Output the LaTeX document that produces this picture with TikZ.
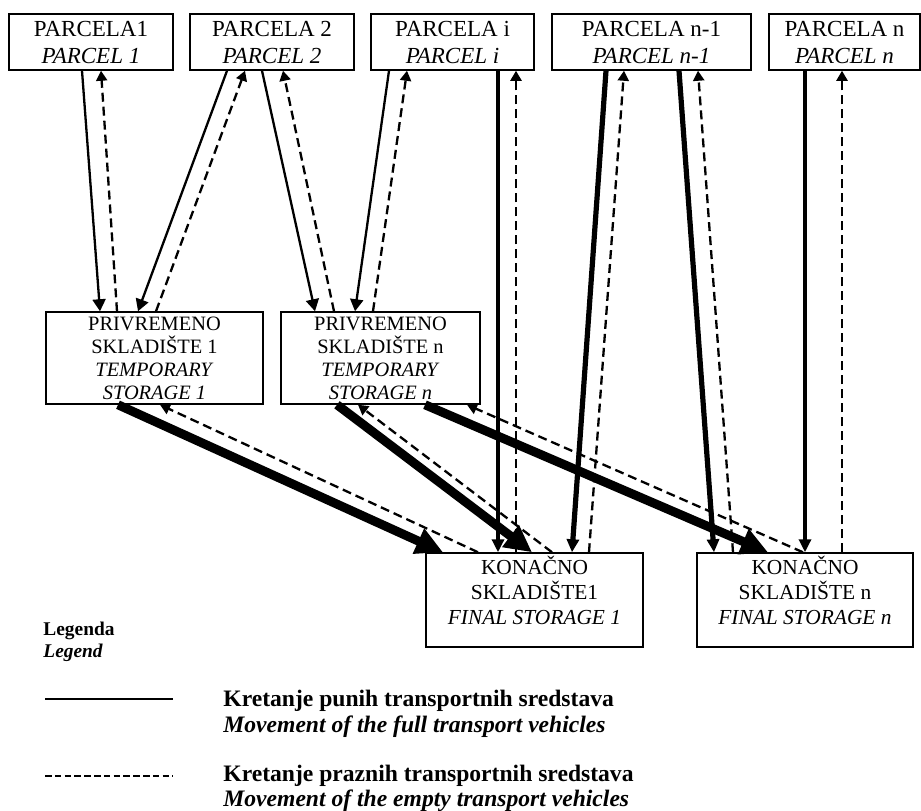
\documentclass[tikz,border=0pt]{standalone}
\usepackage{fontspec}
\setmainfont{Liberation Serif}
\usetikzlibrary{arrows.meta,calc}

\tikzset{
  parcel/.style={draw, line width=0.75pt, inner sep=0pt, minimum height=28pt, align=center, font=\fontsize{11.5}{13.5}\selectfont},
  storebox/.style={draw, line width=0.75pt, inner sep=0pt},
  boxtext/.style={anchor=north, align=center, inner sep=0pt},
  fullrun/.style={line width=1.15pt, -{Triangle[length=6pt,width=6.5pt]}},
  midrun/.style={line width=2.2pt, -{Triangle[length=6.5pt,width=6pt]}},
  heavyrun/.style={line width=4.5pt, -{Triangle[length=13.5pt,width=13pt]}},
  emptyrun/.style={line width=1.15pt, dash pattern=on 4.5pt off 2.5pt, -{Triangle[length=5pt,width=5.5pt]}},
}

\begin{document}
\begin{tikzpicture}[x=0.5pt, y=-0.5pt]
        \useasboundingbox (0,0) rectangle (921,810);

        % Parcels on top
        \foreach \nm/\x/\w/\hr/\en in {p1/91/164/PARCELA1/PARCEL 1, p2/272/164/PARCELA 2/PARCEL 2, pi/452.5/163/PARCELA i/PARCEL i, pm/651.5/199/PARCELA n-1/PARCEL n-1, pn/844.5/151/PARCELA n/PARCEL n}
            \node (\nm) at (\x,42) [parcel, minimum width=\w*0.5pt] {\hr\\\textit{\en}};

        % Temporary storages
        \node (t1) at (154.5,358) [storebox, minimum width=108.5pt, minimum height=46pt] {};
        \node (tn) at (380.5,358) [storebox, minimum width=99.5pt, minimum height=46pt] {};
        \foreach \nm/\k in {t1/1, tn/n}
            \node (\nm-txt) at ($(\nm.north)+(0,5)$) [boxtext, font=\fontsize{10.2}{11.5}\selectfont] {PRIVREMENO\\SKLADIŠTE \k\\\textit{TEMPORARY}\\\textit{STORAGE \k}};

        % Final storages
        \node (f1) at (534.5,600) [storebox, minimum width=108.5pt, minimum height=47pt] {};
        \node (fn) at (805,600) [storebox, minimum width=108pt, minimum height=47pt] {};
        \node (f1-txt) at ($(f1.north)+(0,3)$) [boxtext, font=\fontsize{10.7}{12.5}\selectfont] {KONAČNO\\SKLADIŠTE1\\\textit{FINAL STORAGE 1}};
        \node (fn-txt) at ($(fn.north)+(0,3)$) [boxtext, font=\fontsize{10.7}{12.5}\selectfont] {KONAČNO\\SKLADIŠTE n\\\textit{FINAL STORAGE n}};

        % Full vehicles from the parcels
        \draw[fullrun] ($(p1.south)+(-9,0)$) -- ($(t1.north)+(-54.5,0)$);
        \draw[fullrun] ($(p2.south)+(-45,0)$) -- ($(t1.north)+(-16.5,0)$);
        \draw[fullrun] ($(p2.south)+(-10,0)$) -- ($(tn.north)+(-65.5,0)$);
        \draw[fullrun] ($(pi.south)+(-63.5,0)$) -- ($(tn.north)+(-25.5,0)$);
        \draw[midrun] ($(pi.south)+(45.5,0)$) -- ($(f1.north)+(-36.5,0)$);
        \draw[midrun, line width=2.6pt] ($(pm.south)+(-45.5,0)$) -- ($(f1.north)+(37.5,0)$);
        \draw[midrun, line width=2.6pt] ($(pm.south)+(27.5,0)$) -- ($(fn.north)+(-91,0)$);
        \draw[midrun] ($(pn.south)+(-39.5,0)$) -- (fn.north);

        % Full vehicles from temporary to final storages
        \draw[heavyrun] ($(t1.south)+(-36.5,0)$) -- ($(f1.north)+(-91.5,0)$);
        \draw[heavyrun] ($(tn.south)+(-43.5,0)$) -- ($(f1.north)+(-2.5,0)$);
        \draw[heavyrun] ($(tn.south)+(44.5,0)$) -- ($(fn.north)+(-37,0)$);

        % Empty vehicles going back
        \foreach \a/\da/\b/\db in {t1/-37.5/p1/10, t1/1.5/p2/-27, tn/-46.5/p2/11, tn/-7.5/pi/-45.5, f1/-18.5/pi/63.5, f1/54.5/pm/-27.5, fn/-72/pm/46.5, fn/37/pn/-2.5, f1/-56.5/t1/5.5, f1/17.5/tn/-22.5, fn/-2/tn/86.5}
            \draw[emptyrun] ($(\a.north)+(\da,0)$) -- ($(\b.south)+(\db,0)$);

        % Legend
        \node (leg) at (43,622) [anchor=north west, inner sep=0pt, align=left, font=\fontsize{9.7}{11}\selectfont\bfseries] {Legenda\\\textit{Legend}};
        \node (full-txt) at (223,690) [anchor=north west, inner sep=0pt, align=left, font=\fontsize{11.8}{13}\selectfont\bfseries] {Kretanje punih transportnih sredstava\\\textit{Movement of the full transport vehicles}};
        \node (empty-txt) at (223,765) [anchor=north west, inner sep=0pt, align=left, font=\fontsize{11.8}{12.3}\selectfont\bfseries] {Kretanje praznih transportnih sredstava\\\textit{Movement of the empty transport vehicles}};
        \draw[line width=1pt] (45,699) -- (173,699);
        \draw[line width=1.3pt, dash pattern=on 3.25pt off 1.65pt] (45,776) -- (173,776);
\end{tikzpicture}
\end{document}
